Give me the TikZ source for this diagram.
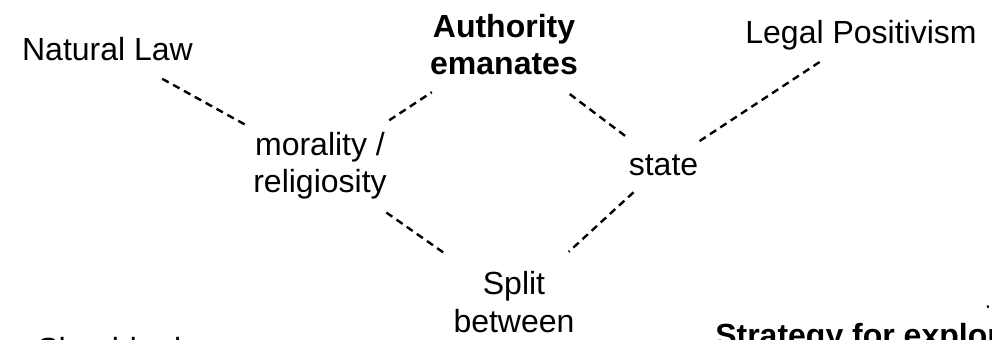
\documentclass[tikz,border=0pt]{standalone}
\usepackage{fontspec}
\setmainfont{Liberation Sans}
\usetikzlibrary{positioning}

\begin{document}
\begin{tikzpicture}[x=0.75pt,y=-0.75pt,
	every node/.style={font=\fontsize{24}{28}\selectfont, inner sep=0pt},
	link/.style={line width=1.8pt, dash pattern=on 5.5pt off 3.8pt}]
	\useasboundingbox (0,0) rectangle (992,339);
	\clip (0,0) rectangle (992,339);

	\node [anchor=base]      (nat)   at (107.5,60) {Natural Law};
	\node [align=center]     (auth)  at (504,44.5) {\bfseries Authority\\\bfseries emanates};
	\node [anchor=base]      (legal) at (861,43)   {Legal Positivism};
	\node [align=center]     (mor)   at (320,166)  {morality /\\religiosity};
	\node [anchor=base]      (state) at (663.5,175) {state};
	\node [align=center]     (split) at (514,302)  {Split\\between};
	\node [anchor=base west] (should) at (37,360)  {Should rule};
	\node [anchor=base west] (strat) at (715,346)  {\bfseries Strategy for exploring};
	\coordinate (edge) at (1000,301);

	\draw[link, shorten <=46.9pt, shorten >=64.5pt] (nat.center) -- (mor.center);
	\draw[link, shorten <=62.2pt, shorten >=64.9pt] (mor.center) -- (auth.center);
	\draw[link, shorten <=60.8pt, shorten >=61.8pt] (mor.center) -- (split.center);
	\draw[link, shorten <=61.7pt, shorten >=32.9pt] (auth.center) -- (state.center);
	\draw[link, shorten <=32.4pt, shorten >=36.2pt] (state.center) -- (legal.center);
	\draw[link, shorten <=30.5pt, shorten >=55.7pt] (state.center) -- (split.center);
	\draw[link] (edge) -- ++(-13,6);

\end{tikzpicture}
\end{document}
